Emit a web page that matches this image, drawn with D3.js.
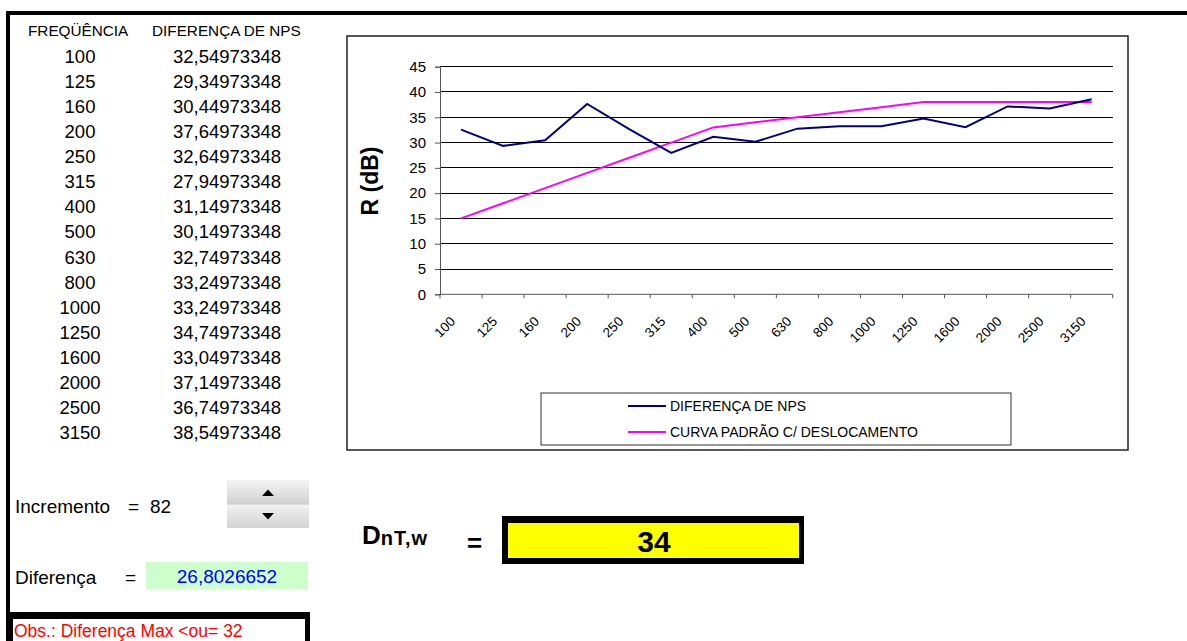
<!DOCTYPE html>
<html><head><meta charset="utf-8">
<script src="https://cdn.jsdelivr.net/npm/d3@7"></script>
<style>
body{margin:0;background:#fff}
svg{display:block}
text{font-family:"Liberation Sans",Arial,Helvetica,sans-serif}
</style>
</head><body>
<svg id="sheet" width="1187" height="641"></svg>
<script>
// Frequency bands (Hz) and measured level differences
const frequencias = ["100","125","160","200","250","315","400","500","630","800","1000","1250","1600","2000","2500","3150"];
const diferencaNPS = [32.54973348,29.34973348,30.44973348,37.64973348,32.64973348,27.94973348,31.14973348,30.14973348,32.74973348,33.24973348,33.24973348,34.74973348,33.04973348,37.14973348,36.74973348,38.54973348];
// Reference curve after shifting
const curvaPadrao = [15,18,21,24,27,30,33,34,35,36,37,38,38,38,38,38];
const yTicks = [0,5,10,15,20,25,30,35,40,45];
const seriesNames = ["DIFERENÇA DE NPS","CURVA PADRÃO C/ DESLOCAMENTO"];
const incremento = 82;
const diferencaTotal = 26.8026652;
const diferencaMax = 32;
const dntw = 34;

const svg = d3.select("#sheet");
const fmt = v => v.toFixed(8).replace(".", ",");

// Sheet frame (thick black border top/left)
svg.append("rect").attr("x",6).attr("y",11).attr("width",1181).attr("height",4).attr("fill","#000");
svg.append("rect").attr("x",6).attr("y",11).attr("width",4).attr("height",630).attr("fill","#000");

// ---- Data table ----
svg.append("text").attr("x",28).attr("y",36).attr("font-size",15.3).text("FREQÜÊNCIA");
svg.append("text").attr("x",152).attr("y",36).attr("font-size",15.3).text("DIFERENÇA DE NPS");
const rows = svg.append("g").selectAll("g").data(frequencias).join("g")
  .attr("transform",(d,i)=>`translate(0,${63 + i*25.07})`);
rows.append("text").attr("x",80).attr("text-anchor","middle").attr("font-size",18.5).text(d=>d);
rows.append("text").attr("x",227).attr("text-anchor","middle").attr("font-size",18.5).text((d,i)=>fmt(diferencaNPS[i]));

// ---- Chart ----
svg.append("rect").attr("x",347).attr("y",36).attr("width",781).attr("height",414)
  .attr("fill","#fff").attr("stroke","#222").attr("stroke-width",1.5);

const x = d3.scaleBand().domain(frequencias).range([440,1112.7]).padding(0);
const y = d3.scaleLinear().domain([0,45]).range([294.3,66.7]);
const cx = d => x(d) + x.bandwidth()/2;

// horizontal gridlines
svg.append("g").selectAll("line").data(yTicks.filter(t=>t>0)).join("line")
  .attr("x1",440).attr("x2",1112.7).attr("y1",d=>y(d)).attr("y2",d=>y(d))
  .attr("stroke","#000").attr("stroke-width",1).attr("shape-rendering","crispEdges");

// y axis
const yAxis = svg.append("g").attr("transform","translate(440,0)")
  .call(d3.axisLeft(y).tickValues(yTicks).tickSize(5).tickPadding(9).tickFormat(d3.format("d")));
yAxis.select(".domain").attr("stroke","#555");
yAxis.selectAll(".tick line").attr("stroke","#555");
yAxis.selectAll("text").attr("font-size",15).attr("fill","#000")
  .style("font-family","'Liberation Sans',Arial,sans-serif");

// x axis (ticks between categories)
const xg = svg.append("g");
xg.append("line").attr("x1",440).attr("x2",1112.7).attr("y1",y(0)).attr("y2",y(0)).attr("stroke","#555");
const bounds = frequencias.map(f=>x(f)).concat([x(frequencias[frequencias.length-1]) + x.bandwidth()]);
xg.selectAll("line.t").data(bounds).join("line").attr("class","t")
  .attr("x1",d=>d).attr("x2",d=>d).attr("y1",y(0)).attr("y2",y(0)+4).attr("stroke","#555");
xg.selectAll("text").data(frequencias).join("text")
  .attr("transform",d=>`translate(${cx(d)-5},${y(0)+28}) rotate(-45)`)
  .attr("text-anchor","end").attr("font-size",13.5).text(d=>d);

// axis title
svg.append("text").attr("transform",`translate(378,${181}) rotate(-90)`)
  .attr("text-anchor","middle").attr("font-size",23).attr("font-weight","bold").text("R (dB)");

// series lines
const line = d3.line().x((d,i)=>cx(frequencias[i])).y(d=>y(d));
svg.append("path").datum(curvaPadrao).attr("d",line).attr("fill","none")
  .attr("stroke","#ff00ff").attr("stroke-width",2);
svg.append("path").datum(diferencaNPS).attr("d",line).attr("fill","none")
  .attr("stroke","#000080").attr("stroke-width",2);

// legend
const lg = svg.append("g");
lg.append("rect").attr("x",541).attr("y",393).attr("width",470).attr("height",52)
  .attr("fill","#fff").attr("stroke","#333").attr("stroke-width",1);
const legColors = ["#000080","#ff00ff"];
seriesNames.forEach((n,i)=>{
  const ly = 406 + i*26;
  lg.append("line").attr("x1",628).attr("x2",666).attr("y1",ly).attr("y2",ly)
    .attr("stroke",legColors[i]).attr("stroke-width",2);
  lg.append("text").attr("x",670).attr("y",ly+5).attr("font-size",14).text(n);
});

// ---- Controls ----
svg.append("text").attr("x",15).attr("y",513).attr("font-size",19).text("Incremento");
svg.append("text").attr("x",128).attr("y",513).attr("font-size",19).text("=");
svg.append("text").attr("x",150).attr("y",513).attr("font-size",19).text(incremento);

// spinner
const defs = svg.append("defs");
const gr = defs.append("linearGradient").attr("id","btn").attr("x1",0).attr("y1",0).attr("x2",0).attr("y2",1);
gr.append("stop").attr("offset","0%").attr("stop-color","#f4f4f4");
gr.append("stop").attr("offset","45%").attr("stop-color","#e4e4e4");
gr.append("stop").attr("offset","100%").attr("stop-color","#d2d2d2");
[480,504].forEach(by=>{
  svg.append("rect").attr("x",227).attr("y",by).attr("width",82).attr("height",24).attr("fill","url(#btn)");
});
svg.append("line").attr("x1",227).attr("x2",309).attr("y1",504).attr("y2",504).attr("stroke","#c4c4c4");
svg.append("path").attr("d","M262,496 L274,496 L268,489.5 Z").attr("fill","#000");
svg.append("path").attr("d","M262,513 L274,513 L268,519.5 Z").attr("fill","#000");

svg.append("text").attr("x",15).attr("y",584).attr("font-size",19).text("Diferença");
svg.append("text").attr("x",125).attr("y",584).attr("font-size",19).text("=");
svg.append("rect").attr("x",146).attr("y",562).attr("width",162).attr("height",27).attr("fill","#ccffcc");
svg.append("text").attr("x",227).attr("y",583).attr("text-anchor","middle").attr("font-size",19)
  .attr("fill","#0000ff").text(String(diferencaTotal).replace(".", ","));

// note box
svg.append("rect").attr("x",6).attr("y",612).attr("width",304).attr("height",40).attr("fill","#000");
svg.append("rect").attr("x",13).attr("y",619).attr("width",292).attr("height",30).attr("fill","#fff");
svg.append("text").attr("x",14).attr("y",637).attr("font-size",17.5).attr("fill","#ff0000")
  .text(`Obs.: Diferença Max <ou= ${diferencaMax}`);

// ---- Result ----
const dt = svg.append("text").attr("x",362).attr("y",544).attr("font-weight","bold");
dt.append("tspan").attr("font-size",26).text("D");
dt.append("tspan").attr("font-size",20).attr("dy",1).attr("letter-spacing",1).text("nT,w");
svg.append("text").attr("x",467).attr("y",552).attr("font-size",26).attr("font-weight","bold").text("=");
svg.append("rect").attr("x",502).attr("y",516).attr("width",302).attr("height",48).attr("fill","#000");
svg.append("rect").attr("x",508).attr("y",523).attr("width",291).attr("height",35).attr("fill","#ffff00");
svg.append("text").attr("x",654).attr("y",552).attr("text-anchor","middle").attr("font-size",30)
  .attr("font-weight","bold").text(dntw);
</script>
</body></html>
